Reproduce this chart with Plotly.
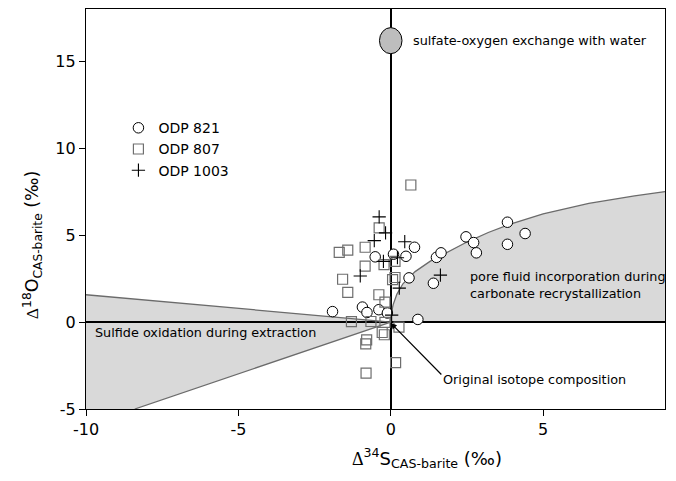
import plotly.graph_objects as go

# ---------------- data ----------------
odp821_x = [-1.91, -0.93, -0.78, -0.39, -0.11, 0.89, -0.51, 0.09, 0.50, 0.78,
            0.60, 1.40, 1.50, 1.65, 2.47, 2.72, 2.81, 3.83, 3.83, 4.41]
odp821_y = [0.60, 0.86, 0.55, 0.71, 0.52, 0.15, 3.75, 3.90, 3.78, 4.30,
            2.54, 2.23, 3.72, 3.98, 4.90, 4.57, 3.98, 5.74, 4.47, 5.09]

odp807_x = [0.66, -0.38, -1.69, -1.41, -0.84, -0.84, -0.22, 0.14, -1.58, 0.06,
            0.14, -1.41, -0.39, -0.19, -1.29, -0.65, -0.19, 0.27, -0.28, -0.21,
            -0.79, -0.82, 0.16, -0.81]
odp807_y = [7.88, 5.42, 4.01, 4.13, 4.30, 3.21, 3.30, 3.49, 2.46, 2.44,
            2.56, 1.71, 1.57, 1.14, 0.02, 0.03, -0.02, -0.29, -0.60, -0.73,
            -1.02, -1.25, -2.33, -2.94]

odp1003_x = [-0.38, -0.17, -0.54, 0.46, 0.22, -0.24, -1.00, 0.28, 1.63, 0.03]
odp1003_y = [6.05, 5.13, 4.68, 4.62, 3.70, 3.49, 2.65, 1.95, 2.70, 0.40]

# pore-fluid incorporation envelope (upper boundary)
pore_x = [0.0, 0.01, 0.03, 0.08, 0.2, 0.4, 0.8, 1.3, 2.0, 2.5, 3.2, 3.9, 5.0, 6.5, 8.0, 9.0]
pore_y = [0.0, 0.35, 0.6, 1.0, 1.6, 2.2, 2.9, 3.5, 4.15, 4.6, 5.15, 5.62, 6.22, 6.82, 7.25, 7.5]

# sulfide oxidation wedge (upper line end, apex, lower line end)
wedge_x = [-10.0, 0.0, -8.4]
wedge_y = [1.57, 0.0, -5.0]

# sulfate-oxygen exchange end member (centre and half-widths)
exch_x, exch_y = 0.0, 16.18
exch_dx, exch_dy = 0.37, 0.75

x_range = [-10, 9]
y_range = [-5, 18]
x_ticks = [-10, -5, 0, 5]
x_ticktext = ["-10", "-5", "0", "5"]
y_ticks = [-5, 0, 5, 10, 15]
y_ticktext = ["-5", "0", "5", "10", "15"]

FONT = "DejaVu Sans"
FILL = "#d9d9d9"
EDGE = "#6b6b6b"

fig = go.Figure()

# shaded regions (below zero lines)
pore_path = "M " + " L ".join(f"{x},{y}" for x, y in zip(pore_x, pore_y))
pore_path += f" L {pore_x[-1]},0 Z"
wedge_path = (f"M {wedge_x[0]},{wedge_y[0]} L {wedge_x[1]},{wedge_y[1]} "
              f"L {wedge_x[2]},{wedge_y[2]} L {x_range[0]},{y_range[0]} Z")
fig.add_shape(type="path", path=pore_path, xref="x", yref="y",
              fillcolor=FILL, line=dict(width=0), layer="below")
fig.add_shape(type="path", path=wedge_path, xref="x", yref="y",
              fillcolor=FILL, line=dict(width=0), layer="below")

# boundary lines
fig.add_trace(go.Scatter(x=pore_x, y=pore_y, mode="lines",
                         line=dict(color=EDGE, width=1.3),
                         showlegend=False, hoverinfo="skip"))
fig.add_trace(go.Scatter(x=wedge_x, y=wedge_y, mode="lines",
                         line=dict(color=EDGE, width=1.3),
                         showlegend=False, hoverinfo="skip"))

# data
fig.add_trace(go.Scatter(x=odp821_x, y=odp821_y, mode="markers", name="ODP 821",
                         marker=dict(symbol="circle", size=10.5, color="white",
                                     line=dict(color="black", width=1))))
fig.add_trace(go.Scatter(x=odp807_x, y=odp807_y, mode="markers", name="ODP 807",
                         marker=dict(symbol="square-open", size=10, color="#6e6e6e",
                                     line=dict(color="#6e6e6e", width=1.2))))
fig.add_trace(go.Scatter(x=odp1003_x, y=odp1003_y, mode="markers", name="ODP 1003",
                         marker=dict(symbol="cross-thin", size=9.5, color="black",
                                     line=dict(color="black", width=1.1))))

# exchange end member ellipse
fig.add_shape(type="circle", xref="x", yref="y",
              x0=exch_x - exch_dx, x1=exch_x + exch_dx,
              y0=exch_y - exch_dy, y1=exch_y + exch_dy,
              fillcolor="#bdbdbd", line=dict(color="black", width=1), layer="above")

txt = dict(family=FONT, size=12.8, color="black")
fig.add_annotation(x=0.67, y=exch_y, xref="x", yref="y", text="sulfate-oxygen exchange with water",
                   showarrow=False, xanchor="left", yanchor="middle", font=txt)
fig.add_annotation(x=-9.77, y=-0.62, xref="x", yref="y", text="Sulfide oxidation during extraction",
                   showarrow=False, xanchor="left", yanchor="middle", font=txt)
fig.add_annotation(x=2.55, y=2.15, xref="x", yref="y",
                   text="pore fluid incorporation during<br>carbonate recrystallization",
                   showarrow=False, xanchor="left", yanchor="middle", align="left", font=txt)
fig.add_annotation(x=1.65, y=-3.33, xref="x", yref="y", text="Original isotope composition",
                   showarrow=False, xanchor="left", yanchor="middle", font=txt)
fig.add_annotation(x=0.0, y=-0.06, xref="x", yref="y", ax=1.71, ay=-3.1, axref="x", ayref="y",
                   text="", showarrow=True, arrowhead=2, arrowsize=1, arrowwidth=1.2,
                   arrowcolor="black")

# axis titles
fig.add_annotation(x=0.589, y=-0.1225, xref="paper", yref="paper", showarrow=False,
                   xanchor="center", yanchor="middle",
                   text="<span style='font-family:Liberation Serif'>Δ</span><sup>34</sup>S<sub>CAS-barite</sub> (‰)",
                   font=dict(family=FONT, size=18, color="black"))
fig.add_annotation(x=-0.093, y=0.41, xref="paper", yref="paper", showarrow=False,
                   xanchor="center", yanchor="middle", textangle=-90,
                   text="<span style='font-family:Liberation Serif'>Δ</span><sup>18</sup>O<sub>CAS-barite</sub> (‰)",
                   font=dict(family=FONT, size=17.5, color="black"))

axis_common = dict(showgrid=False, zeroline=True, zerolinecolor="black", zerolinewidth=1.5,
                   showline=True, linecolor="black", linewidth=1.2, mirror=True,
                   ticks="outside", ticklen=6, tickcolor="black", tickwidth=1.2,
                   tickfont=dict(family=FONT, size=16, color="black"))
fig.update_xaxes(range=x_range, tickvals=x_ticks, ticktext=x_ticktext, **axis_common)
fig.update_yaxes(range=y_range, tickvals=y_ticks, ticktext=y_ticktext, **axis_common)

fig.update_layout(width=676, height=481, margin=dict(l=86, r=11, t=9, b=72),
                  paper_bgcolor="white", plot_bgcolor="white",
                  font=dict(family=FONT, color="black"),
                  legend=dict(x=0.056, y=0.742, xanchor="left", yanchor="top",
                              bgcolor="rgba(0,0,0,0)", font=dict(family=FONT, size=14),
                              tracegroupgap=0),
                  showlegend=True)

fig.write_html("out.html")
